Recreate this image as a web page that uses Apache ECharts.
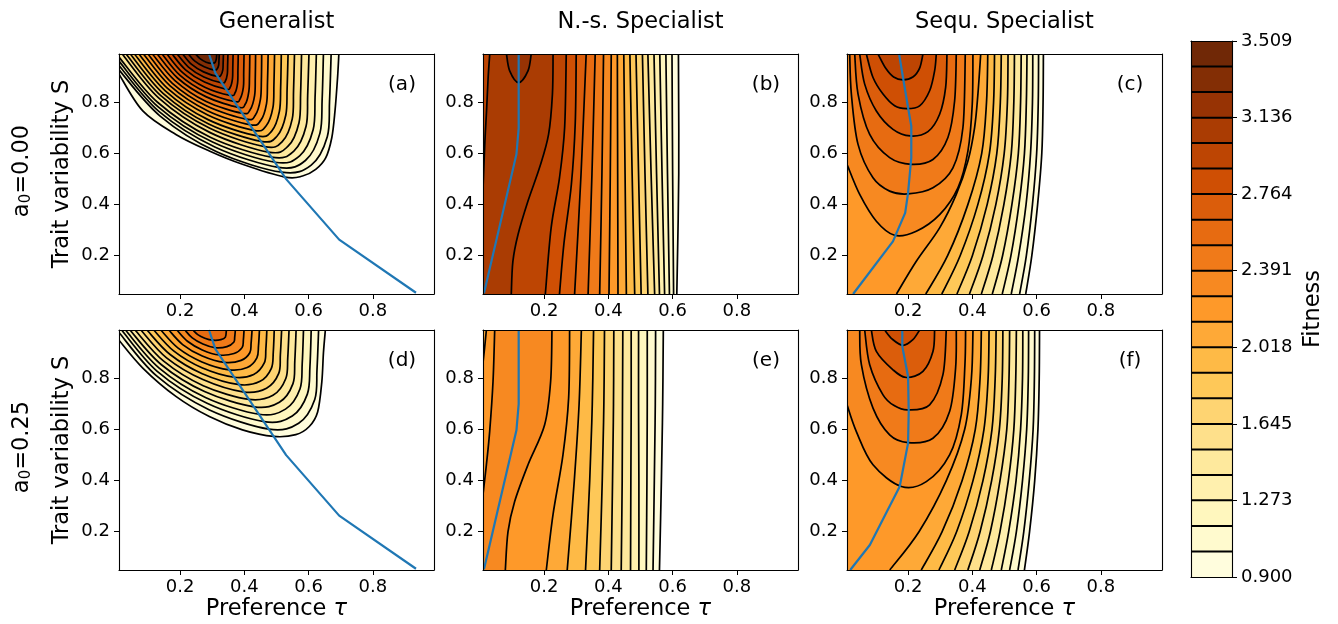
<!DOCTYPE html>
<html><head><meta charset="utf-8">
<script src="https://cdn.jsdelivr.net/npm/echarts@6.0.0/dist/echarts.min.js"></script>
<style>html,body{margin:0;padding:0;background:#fff}#c{width:1338px;height:624px}</style>
</head><body><div id="c"></div>
<script>
// ---------------- data ----------------
const titles = ['Generalist', 'N.-s. Specialist', 'Sequ. Specialist'];
const rowLabels = ['a{s|0}=0.00', 'a{s|0}=0.25'];
const panelTags = ['(a)', '(b)', '(c)', '(d)', '(e)', '(f)'];
const levels = [0.900,1.024,1.148,1.273,1.397,1.521,1.645,1.770,1.894,2.018,2.142,2.267,2.391,2.515,2.639,2.764,2.888,3.012,3.136,3.261,3.385,3.509];
const cbTicks = [0.900,1.273,1.645,2.018,2.391,2.764,3.136,3.509];
const xTicks = [0.2,0.4,0.6,0.8];
const yTicks = [0.2,0.4,0.6,0.8];
const tauRange = [0.01, 0.99];
const sRange = [0.05, 0.99];

// optimum preference (blue lines)
const optimumGen = [[0.29,0.99],[0.31,0.915],[0.53,0.50],[0.695,0.263],[0.934,0.055]];
const optimumNs = [[0.121,0.99],[0.121,0.70],[0.114,0.597],[0.013,0.053]];
const optimumSeq0 = [[0.172,0.99],[0.185,0.892],[0.200,0.780],[0.21,0.708],[0.21,0.584],[0.200,0.446],[0.191,0.368],[0.153,0.256],[0.029,0.05]];
const optimumSeq25 = [[0.182,0.99],[0.182,0.926],[0.2,0.808],[0.202,0.671],[0.2,0.547],[0.174,0.377],[0.081,0.148],[0.02,0.05]];

// contour lines: [level index, points [tau, S]]
const contoursA = [
 [0,[[0.01,0.911],[0.084,0.767],[0.187,0.675],[0.291,0.610],[0.394,0.558],[0.526,0.508],[0.581,0.512],[0.622,0.538],[0.653,0.583],[0.672,0.662],[0.682,0.767],[0.690,0.898],[0.694,0.99]]],
 [1,[[0.01,0.928],[0.137,0.748],[0.314,0.607],[0.516,0.527],[0.608,0.555],[0.658,0.666],[0.665,0.805],[0.670,0.99]]],
 [2,[[0.01,0.945],[0.134,0.765],[0.308,0.626],[0.506,0.546],[0.590,0.573],[0.635,0.679],[0.642,0.812],[0.646,0.99]]],
 [3,[[0.01,0.962],[0.131,0.784],[0.301,0.645],[0.495,0.566],[0.572,0.591],[0.614,0.693],[0.620,0.820],[0.624,0.99]]],
 [4,[[0.01,0.978],[0.129,0.802],[0.294,0.664],[0.484,0.586],[0.554,0.610],[0.592,0.707],[0.597,0.828],[0.601,0.99]]],
 [5,[[0.020,0.99],[0.134,0.817],[0.292,0.683],[0.474,0.606],[0.536,0.629],[0.570,0.721],[0.575,0.836],[0.578,0.99]]],
 [6,[[0.032,0.99],[0.140,0.827],[0.291,0.700],[0.463,0.627],[0.519,0.649],[0.549,0.736],[0.553,0.845],[0.556,0.99]]],
 [7,[[0.045,0.99],[0.147,0.836],[0.289,0.716],[0.452,0.648],[0.502,0.669],[0.529,0.751],[0.533,0.853],[0.536,0.99]]],
 [8,[[0.058,0.99],[0.154,0.846],[0.287,0.733],[0.440,0.669],[0.485,0.688],[0.509,0.765],[0.513,0.862],[0.515,0.99]]],
 [9,[[0.072,0.99],[0.161,0.855],[0.286,0.751],[0.429,0.691],[0.468,0.709],[0.489,0.781],[0.492,0.870],[0.494,0.99]]],
 [10,[[0.086,0.99],[0.169,0.865],[0.285,0.768],[0.417,0.713],[0.451,0.730],[0.469,0.796],[0.472,0.879],[0.474,0.99]]],
 [11,[[0.100,0.99],[0.176,0.875],[0.283,0.786],[0.405,0.735],[0.434,0.750],[0.450,0.812],[0.453,0.888],[0.454,0.99]]],
 [12,[[0.114,0.99],[0.184,0.886],[0.281,0.804],[0.393,0.758],[0.418,0.772],[0.432,0.828],[0.434,0.897],[0.435,0.99]]],
 [13,[[0.129,0.99],[0.192,0.896],[0.280,0.823],[0.381,0.781],[0.403,0.794],[0.414,0.844],[0.416,0.906],[0.417,0.99]]],
 [14,[[0.144,0.99],[0.200,0.906],[0.279,0.841],[0.369,0.804],[0.387,0.815],[0.397,0.860],[0.398,0.916],[0.399,0.99]]],
 [15,[[0.159,0.99],[0.208,0.917],[0.277,0.860],[0.356,0.828],[0.371,0.838],[0.379,0.877],[0.380,0.925],[0.381,0.99]]],
 [16,[[0.175,0.99],[0.217,0.928],[0.276,0.880],[0.343,0.852],[0.356,0.860],[0.363,0.893],[0.364,0.935],[0.365,0.99]]],
 [17,[[0.191,0.99],[0.226,0.939],[0.274,0.900],[0.330,0.877],[0.341,0.884],[0.347,0.911],[0.348,0.945],[0.349,0.99]]],
 [18,[[0.208,0.99],[0.235,0.950],[0.273,0.920],[0.317,0.902],[0.327,0.907],[0.333,0.928],[0.334,0.955],[0.335,0.99]]],
 [19,[[0.226,0.99],[0.246,0.962],[0.275,0.940],[0.307,0.927],[0.315,0.931],[0.320,0.946],[0.321,0.965],[0.322,0.99]]],
 [20,[[0.248,0.99],[0.262,0.972],[0.281,0.958],[0.300,0.953],[0.309,0.957],[0.313,0.972],[0.314,0.99]]]
];
const contoursD = [
 [0,[[0.01,0.95],[0.084,0.841],[0.187,0.730],[0.291,0.651],[0.394,0.599],[0.491,0.573],[0.560,0.580],[0.602,0.612],[0.628,0.669],[0.641,0.787],[0.646,0.90],[0.652,0.99]]],
 [1,[[0.01,0.98],[0.127,0.810],[0.290,0.678],[0.476,0.602],[0.569,0.625],[0.619,0.718],[0.626,0.835],[0.631,0.99]]],
 [2,[[0.018,0.99],[0.129,0.828],[0.284,0.703],[0.461,0.631],[0.549,0.653],[0.596,0.739],[0.604,0.846],[0.608,0.99]]],
 [3,[[0.030,0.99],[0.134,0.842],[0.279,0.726],[0.445,0.660],[0.528,0.680],[0.573,0.759],[0.580,0.858],[0.584,0.99]]],
 [4,[[0.044,0.99],[0.141,0.855],[0.276,0.749],[0.430,0.689],[0.509,0.707],[0.551,0.779],[0.557,0.870],[0.561,0.99]]],
 [5,[[0.060,0.99],[0.149,0.868],[0.272,0.772],[0.414,0.718],[0.489,0.734],[0.529,0.800],[0.535,0.881],[0.539,0.99]]],
 [6,[[0.078,0.99],[0.158,0.881],[0.271,0.796],[0.399,0.747],[0.469,0.762],[0.507,0.820],[0.512,0.893],[0.516,0.99]]],
 [7,[[0.097,0.99],[0.169,0.894],[0.269,0.819],[0.384,0.776],[0.449,0.789],[0.484,0.840],[0.490,0.904],[0.493,0.99]]],
 [8,[[0.118,0.99],[0.181,0.907],[0.268,0.842],[0.368,0.805],[0.429,0.816],[0.462,0.861],[0.467,0.916],[0.470,0.99]]],
 [9,[[0.140,0.99],[0.193,0.920],[0.268,0.865],[0.353,0.834],[0.409,0.843],[0.439,0.881],[0.444,0.928],[0.447,0.99]]],
 [10,[[0.165,0.99],[0.208,0.933],[0.269,0.888],[0.338,0.863],[0.390,0.871],[0.417,0.901],[0.421,0.939],[0.424,0.99]]],
 [11,[[0.190,0.99],[0.223,0.946],[0.269,0.912],[0.322,0.892],[0.368,0.898],[0.393,0.921],[0.397,0.951],[0.399,0.99]]],
 [12,[[0.215,0.99],[0.238,0.959],[0.271,0.935],[0.308,0.921],[0.346,0.925],[0.367,0.942],[0.370,0.962],[0.372,0.99]]],
 [13,[[0.240,0.99],[0.255,0.972],[0.277,0.958],[0.301,0.950],[0.327,0.952],[0.341,0.962],[0.344,0.99]]]
];
const contoursB = [
 [0,[[0.618,0.99],[0.619,0.52],[0.613,0.05]]],
 [1,[[0.598,0.99],[0.600,0.52],[0.603,0.05]]],
 [2,[[0.579,0.99],[0.584,0.52],[0.590,0.05]]],
 [3,[[0.560,0.99],[0.567,0.52],[0.575,0.05]]],
 [4,[[0.542,0.99],[0.550,0.52],[0.559,0.05]]],
 [5,[[0.523,0.99],[0.533,0.52],[0.544,0.05]]],
 [6,[[0.506,0.99],[0.514,0.52],[0.523,0.05]]],
 [7,[[0.486,0.99],[0.494,0.52],[0.502,0.05]]],
 [8,[[0.467,0.99],[0.474,0.52],[0.482,0.05]]],
 [9,[[0.448,0.99],[0.452,0.52],[0.456,0.05]]],
 [10,[[0.428,0.99],[0.429,0.52],[0.430,0.05]]],
 [11,[[0.409,0.99],[0.406,0.52],[0.402,0.05]]],
 [12,[[0.385,0.99],[0.380,0.52],[0.373,0.05]]],
 [13,[[0.359,0.99],[0.349,0.52],[0.337,0.05]]],
 [14,[[0.331,0.99],[0.315,0.52],[0.295,0.05]]],
 [15,[[0.300,0.99],[0.297,0.72],[0.285,0.48],[0.262,0.25],[0.248,0.05]]],
 [16,[[0.269,0.99],[0.264,0.702],[0.248,0.505],[0.222,0.309],[0.204,0.05]]],
 [17,[[0.228,0.99],[0.226,0.833],[0.214,0.675],[0.186,0.545],[0.150,0.414],[0.119,0.283],[0.103,0.178],[0.098,0.05]]],
 [17,[[0.031,0.99],[0.026,0.898],[0.021,0.767],[0.0155,0.636],[0.009,0.43]]],
 [18,[[0.083,0.99],[0.093,0.924],[0.121,0.878],[0.150,0.924],[0.160,0.99]]]
];
const contoursE = [
 [0,[[0.571,0.99],[0.569,0.7],[0.565,0.4],[0.559,0.05]]],
 [1,[[0.547,0.99],[0.546,0.7],[0.543,0.4],[0.539,0.05]]],
 [2,[[0.521,0.99],[0.521,0.7],[0.520,0.4],[0.518,0.05]]],
 [3,[[0.494,0.99],[0.494,0.7],[0.495,0.4],[0.495,0.05]]],
 [4,[[0.471,0.99],[0.471,0.7],[0.470,0.4],[0.469,0.05]]],
 [5,[[0.445,0.99],[0.444,0.7],[0.443,0.4],[0.440,0.05]]],
 [6,[[0.417,0.99],[0.416,0.7],[0.413,0.4],[0.409,0.05]]],
 [7,[[0.388,0.99],[0.386,0.7],[0.381,0.4],[0.373,0.05]]],
 [8,[[0.354,0.99],[0.350,0.7],[0.342,0.4],[0.329,0.05]]],
 [9,[[0.316,0.99],[0.309,0.7],[0.294,0.4],[0.272,0.05]]],
 [10,[[0.2795,0.99],[0.2764,0.723],[0.2588,0.501],[0.2277,0.266],[0.207,0.05]]],
 [11,[[0.2246,0.99],[0.2204,0.789],[0.2018,0.619],[0.150,0.462],[0.1085,0.318],[0.0878,0.200],[0.0795,0.05]]],
 [11,[[0.0464,0.99],[0.0412,0.789],[0.0308,0.593],[0.0205,0.462],[0.009,0.335]]],
 [10,[[0.0205,0.99],[0.015,0.92],[0.009,0.85]]]
];
const contoursC = [
 [0,[[0.566,0.05],[0.585,0.2],[0.603,0.4],[0.616,0.6],[0.620,0.8],[0.621,0.99]]],
 [1,[[0.547,0.05],[0.568,0.2],[0.587,0.4],[0.600,0.6],[0.605,0.8],[0.606,0.99]]],
 [2,[[0.521,0.05],[0.544,0.2],[0.567,0.4],[0.581,0.6],[0.587,0.8],[0.588,0.99]]],
 [3,[[0.493,0.05],[0.520,0.2],[0.545,0.4],[0.562,0.6],[0.568,0.8],[0.570,0.99]]],
 [4,[[0.462,0.05],[0.494,0.2],[0.523,0.4],[0.543,0.6],[0.550,0.8],[0.552,0.99]]],
 [5,[[0.428,0.05],[0.464,0.2],[0.498,0.4],[0.521,0.6],[0.529,0.8],[0.531,0.99]]],
 [6,[[0.391,0.05],[0.433,0.2],[0.473,0.4],[0.499,0.6],[0.509,0.8],[0.511,0.99]]],
 [7,[[0.352,0.05],[0.400,0.2],[0.446,0.4],[0.476,0.6],[0.487,0.8],[0.490,0.99]]],
 [8,[[0.305,0.05],[0.362,0.2],[0.417,0.4],[0.453,0.6],[0.466,0.8],[0.469,0.99]]],
 [9,[[0.255,0.05],[0.323,0.2],[0.386,0.4],[0.429,0.6],[0.444,0.8],[0.448,0.99]]],
 [10,[[0.164,0.05],[0.2256,0.178],[0.2982,0.309],[0.35,0.44],[0.3862,0.571],[0.407,0.702],[0.4173,0.833],[0.426,0.99]]],
 [11,[[0.01,0.558],[0.0495,0.440],[0.1013,0.335],[0.158,0.280],[0.2256,0.296],[0.2982,0.361],[0.3551,0.466],[0.3862,0.610],[0.3997,0.793],[0.4018,0.99]]],
 [12,[[0.0184,0.99],[0.0236,0.833],[0.0443,0.636],[0.0909,0.505],[0.1427,0.453],[0.1997,0.442],[0.2774,0.466],[0.3396,0.544],[0.3707,0.702],[0.378,0.99]]],
 [13,[[0.034,0.99],[0.0443,0.833],[0.0806,0.675],[0.1427,0.584],[0.2101,0.558],[0.2774,0.577],[0.324,0.663],[0.3448,0.806],[0.35,0.99]]],
 [14,[[0.0495,0.99],[0.065,0.872],[0.1013,0.767],[0.1531,0.695],[0.207,0.669],[0.2619,0.686],[0.2982,0.754],[0.3169,0.859],[0.321,0.99]]],
 [15,[[0.0702,0.99],[0.0909,0.898],[0.122,0.833],[0.1583,0.787],[0.1946,0.776],[0.236,0.787],[0.2671,0.846],[0.2826,0.924],[0.2878,0.99]]],
 [16,[[0.1065,0.99],[0.13,0.935],[0.155,0.900],[0.184,0.889],[0.215,0.900],[0.236,0.935],[0.2463,0.99]]]
];
const contoursF = [
 [0,[[0.562,0.05],[0.578,0.2],[0.594,0.4],[0.604,0.6],[0.608,0.8],[0.609,0.99]]],
 [1,[[0.542,0.05],[0.560,0.2],[0.577,0.4],[0.589,0.6],[0.593,0.8],[0.594,0.99]]],
 [2,[[0.516,0.05],[0.537,0.2],[0.556,0.4],[0.569,0.6],[0.574,0.8],[0.575,0.99]]],
 [3,[[0.490,0.05],[0.513,0.2],[0.536,0.4],[0.550,0.6],[0.556,0.8],[0.557,0.99]]],
 [4,[[0.459,0.05],[0.486,0.2],[0.512,0.4],[0.529,0.6],[0.535,0.8],[0.537,0.99]]],
 [5,[[0.423,0.05],[0.456,0.2],[0.486,0.4],[0.507,0.6],[0.514,0.8],[0.516,0.99]]],
 [6,[[0.386,0.05],[0.424,0.2],[0.460,0.4],[0.484,0.6],[0.493,0.8],[0.495,0.99]]],
 [7,[[0.345,0.05],[0.390,0.2],[0.433,0.4],[0.461,0.6],[0.471,0.8],[0.474,0.99]]],
 [8,[[0.296,0.05],[0.351,0.2],[0.402,0.4],[0.436,0.6],[0.449,0.8],[0.452,0.99]]],
 [9,[[0.241,0.05],[0.306,0.2],[0.368,0.4],[0.409,0.6],[0.424,0.8],[0.428,0.99]]],
 [10,[[0.143,0.05],[0.234,0.2],[0.319,0.4],[0.376,0.6],[0.397,0.8],[0.402,0.99]]],
 [11,[[0.01,0.697],[0.0391,0.592],[0.0909,0.462],[0.179,0.377],[0.2567,0.396],[0.3292,0.501],[0.3655,0.658],[0.3769,0.854],[0.379,0.99]]],
 [12,[[0.0495,0.99],[0.0547,0.854],[0.0909,0.684],[0.1427,0.579],[0.1997,0.549],[0.2774,0.566],[0.3292,0.671],[0.3479,0.841],[0.35,0.99]]],
 [13,[[0.065,0.99],[0.0806,0.854],[0.122,0.736],[0.158,0.693],[0.1997,0.677],[0.2671,0.697],[0.3085,0.815],[0.3189,0.99]]],
 [14,[[0.0857,0.99],[0.1013,0.906],[0.1531,0.834],[0.1946,0.804],[0.2463,0.828],[0.2774,0.906],[0.2826,0.99]]],
 [15,[[0.127,0.99],[0.15,0.955],[0.184,0.930],[0.215,0.952],[0.236,0.99]]]
];

// region topology: which contour pieces (c = forward, r = reversed) and outer corners close each level's area
const regionsA = contoursA.map((c, i) => [c[0], ['c' + i, 'UL']]);
const regionsD = contoursD.map((c, i) => [c[0], ['c' + i, 'UL']]);
const regionsB = contoursB.slice(0, 17).map((c, i) => [c[0], ['c' + i, 'DL', 'UL']])
  .concat([[17, ['c17', 'DL', 'r18']], [18, ['c19', 'UL']]]);
const regionsE = contoursE.slice(0, 10).map((c, i) => [c[0], ['c' + i, 'DL', 'UL']])
  .concat([[10, ['c10', 'DL', 'r13']], [11, ['c11', 'DL', 'r12']]]);
const regionsC = contoursC.map((c, i) => i <= 10 ? [c[0], ['c' + i, 'UL', 'DL']] : [c[0], ['c' + i, 'UL']]);
const regionsF = contoursF.map((c, i) => i <= 10 ? [c[0], ['c' + i, 'UL', 'DL']] : [c[0], ['c' + i, 'UL']]);

// ---------------- style / layout ----------------
const FONT = 'DejaVu Sans';
const BIG = 22.5, TICK = 18;
const GRID_W = 315, GRID_H = 240;
const colLeft = [119, 483, 847];
const rowTop = [54, 330];
const CORNERS = { UL: [-1, 2], DL: [-1, -1], UR: [2, 2], DR: [2, -1] };
const YLORBR = ['#ffffe5','#fff7bc','#fee391','#fec44f','#fe9929','#ec7014','#cc4c02','#993404','#662506'];

function hexRgb(h) { return [1, 3, 5].map(i => parseInt(h.slice(i, i + 2), 16)); }
function bandColor(k) {
  const t = (k + 0.5) / (levels.length - 1);
  const pos = t * (YLORBR.length - 1);
  const i = Math.min(Math.floor(pos), YLORBR.length - 2);
  const f = pos - i;
  const a = hexRgb(YLORBR[i]), b = hexRgb(YLORBR[i + 1]);
  return 'rgb(' + [0, 1, 2].map(j => Math.round(a[j] + (b[j] - a[j]) * f)).join(',') + ')';
}
function fmt(p) { return p[0].toFixed(2) + ' ' + p[1].toFixed(2); }
function spline(pts) {
  let d = '';
  for (let i = 0; i < pts.length - 1; i++) {
    const p0 = pts[i - 1] || pts[i], p1 = pts[i], p2 = pts[i + 1], p3 = pts[i + 2] || pts[i + 1];
    const c1 = [p1[0] + (p2[0] - p0[0]) / 6, p1[1] + (p2[1] - p0[1]) / 6];
    const c2 = [p2[0] - (p3[0] - p1[0]) / 6, p2[1] - (p3[1] - p1[1]) / 6];
    d += ' C' + fmt(c1) + ' ' + fmt(c2) + ' ' + fmt(p2);
  }
  return d;
}
function regionPath(spec, contours, api) {
  let d = '';
  spec.forEach((item, n) => {
    const cmd = n === 0 ? 'M' : ' L';
    if (CORNERS[item]) { d += cmd + fmt(api.coord(CORNERS[item])); return; }
    let pts = contours[+item.slice(1)][1].map(q => api.coord(q));
    if (item[0] === 'r') pts = pts.slice().reverse();
    d += cmd + fmt(pts[0]) + spline(pts);
  });
  return d + ' Z';
}

const panels = [
  { contours: contoursA, regions: regionsA, optimum: optimumGen },
  { contours: contoursB, regions: regionsB, optimum: optimumNs },
  { contours: contoursC, regions: regionsC, optimum: optimumSeq0 },
  { contours: contoursD, regions: regionsD, optimum: optimumGen },
  { contours: contoursE, regions: regionsE, optimum: optimumNs },
  { contours: contoursF, regions: regionsF, optimum: optimumSeq25 }
];

const lineStyleBlack = { color: '#000', width: 1.1 };
const labelStyle = { fontSize: TICK, color: '#000', fontFamily: FONT };
const grids = [], xAxes = [], yAxes = [], series = [], graphics = [];

panels.forEach((pn, p) => {
  const row = Math.floor(p / 3), col = p % 3;
  grids.push({ left: colLeft[col], top: rowTop[row], width: GRID_W, height: GRID_H, outerBoundsMode: 'none', containLabel: false });
  xAxes.push({
    gridIndex: p, type: 'value', min: tauRange[0], max: tauRange[1], position: 'bottom', z: 10,
    axisLine: { onZero: false, lineStyle: lineStyleBlack },
    axisTick: { customValues: xTicks, length: 5, lineStyle: { color: '#000', width: 1 } },
    axisLabel: Object.assign({ customValues: xTicks, margin: 8, formatter: v => v.toFixed(1) }, labelStyle),
    splitLine: { show: false },
    name: row === 1 ? 'Preference {i|\u03c4}' : '', nameLocation: 'middle', nameGap: 28, nameMoveOverlap: false,
    nameTextStyle: { fontSize: BIG, color: '#000', fontFamily: FONT, rich: { i: { fontSize: BIG, fontStyle: 'italic', fontFamily: FONT, color: '#000' } } }
  }, {
    gridIndex: p, type: 'value', min: tauRange[0], max: tauRange[1], position: 'top', z: 10,
    axisLine: { onZero: false, lineStyle: lineStyleBlack }, axisTick: { show: false }, axisLabel: { show: false }, splitLine: { show: false }
  });
  yAxes.push({
    gridIndex: p, type: 'value', min: sRange[0], max: sRange[1], position: 'left', z: 10,
    axisLine: { onZero: false, lineStyle: lineStyleBlack },
    axisTick: { customValues: yTicks, length: 5, lineStyle: { color: '#000', width: 1 } },
    axisLabel: Object.assign({ customValues: yTicks, margin: 9, formatter: v => v.toFixed(1) }, labelStyle),
    splitLine: { show: false },
    name: col === 0 ? 'Trait variability S' : '', nameLocation: 'middle', nameGap: 45, nameMoveOverlap: false,
    nameTextStyle: { fontSize: BIG, color: '#000', fontFamily: FONT }
  }, {
    gridIndex: p, type: 'value', min: sRange[0], max: sRange[1], position: 'right', z: 10,
    axisLine: { onZero: false, lineStyle: lineStyleBlack }, axisTick: { show: false }, axisLabel: { show: false }, splitLine: { show: false }
  });
  const ai = 2 * p;
  series.push({
    type: 'custom', xAxisIndex: ai, yAxisIndex: ai, clip: true, silent: true, z: 2,
    data: pn.regions.map(() => [0.5, 0.5]),
    renderItem: (params, api) => {
      const r = pn.regions[params.dataIndex];
      return { type: 'path', z2: r[0], shape: { pathData: regionPath(r[1], pn.contours, api) },
        style: { fill: bandColor(r[0]), stroke: 'none' } };
    }
  });
  series.push({
    type: 'custom', xAxisIndex: ai, yAxisIndex: ai, clip: true, silent: true, z: 3,
    data: pn.contours.map(() => [0.5, 0.5]),
    renderItem: (params, api) => {
      const pts = pn.contours[params.dataIndex][1].map(q => api.coord(q));
      return { type: 'path', shape: { pathData: 'M' + fmt(pts[0]) + spline(pts) },
        style: { fill: 'none', stroke: '#000', lineWidth: 1.7, lineJoin: 'round' } };
    }
  });
  series.push({
    type: 'line', xAxisIndex: ai, yAxisIndex: ai, data: pn.optimum, symbol: 'none', showSymbol: false,
    lineStyle: { color: '#1f77b4', width: 2.2 }, z: 4, clip: true, silent: true, smooth: false
  });
  graphics.push({ type: 'text', x: colLeft[col] + GRID_W - 32, y: rowTop[row] + 31,
    style: { text: panelTags[p], fontSize: 20, fontFamily: FONT, fill: '#000', align: 'center', verticalAlign: 'middle', textAlign: 'center', textVerticalAlign: 'middle' } });
});

// colorbar
grids.push({ left: 1191, top: 41, width: 41, height: 536, outerBoundsMode: 'none', containLabel: false });
xAxes.push({ gridIndex: 6, type: 'value', min: 0, max: 1, position: 'bottom', z: 10, axisLine: { onZero: false, lineStyle: lineStyleBlack }, axisTick: { show: false }, axisLabel: { show: false }, splitLine: { show: false } },
           { gridIndex: 6, type: 'value', min: 0, max: 1, position: 'top', z: 10, axisLine: { onZero: false, lineStyle: lineStyleBlack }, axisTick: { show: false }, axisLabel: { show: false }, splitLine: { show: false } });
yAxes.push({
  gridIndex: 6, type: 'value', min: levels[0], max: levels[levels.length - 1], position: 'right', z: 10,
  axisLine: { onZero: false, lineStyle: lineStyleBlack },
  axisTick: { customValues: cbTicks, length: 5, lineStyle: { color: '#000', width: 1 } },
  axisLabel: Object.assign({ customValues: cbTicks, margin: 9, formatter: v => v.toFixed(3) }, labelStyle),
  splitLine: { show: false },
  name: 'Fitness', nameLocation: 'middle', nameGap: 70, nameMoveOverlap: false,
  nameTextStyle: { fontSize: BIG, color: '#000', fontFamily: FONT }
}, { gridIndex: 6, type: 'value', min: levels[0], max: levels[levels.length - 1], position: 'left', z: 10, axisLine: { onZero: false, lineStyle: lineStyleBlack }, axisTick: { show: false }, axisLabel: { show: false }, splitLine: { show: false } });
series.push({
  type: 'custom', xAxisIndex: 12, yAxisIndex: 12, silent: true, z: 2,
  data: levels.slice(0, -1).map(v => [0.5, v]),
  renderItem: (params, api) => {
    const k = params.dataIndex;
    const a = api.coord([0, levels[k]]), b = api.coord([1, levels[k + 1]]);
    const children = [{ type: 'rect', shape: { x: a[0], y: b[1], width: b[0] - a[0], height: a[1] - b[1] }, style: { fill: bandColor(k) } }];
    if (k < levels.length - 2) children.push({ type: 'line', z2: 5, shape: { x1: a[0], y1: b[1], x2: b[0], y2: b[1] }, style: { stroke: '#000', lineWidth: 2 } });
    return { type: 'group', children: children };
  }
});

// titles and row labels
titles.forEach((t, i) => graphics.push({ type: 'text', x: colLeft[i] + GRID_W / 2, y: 22,
  style: { text: t, fontSize: BIG, fontFamily: FONT, fill: '#000', align: 'center', verticalAlign: 'middle', textAlign: 'center', textVerticalAlign: 'middle' } }));
rowLabels.forEach((t, r) => graphics.push({ type: 'text', x: 22, y: rowTop[r] + GRID_H / 2 - 3, rotation: Math.PI / 2,
  style: { text: t, fontSize: BIG, fontFamily: FONT, fill: '#000', align: 'center', verticalAlign: 'middle', textAlign: 'center', textVerticalAlign: 'middle',
    rich: { s: { fontSize: 15, fontFamily: FONT, fill: '#000', verticalAlign: 'bottom', padding: [9, 0, 0, 0] } } } }));

const chart = echarts.init(document.getElementById('c'), null, { renderer: 'canvas' });
chart.setOption({
  animation: false,
  backgroundColor: '#fff',
  textStyle: { fontFamily: FONT },
  grid: grids, xAxis: xAxes, yAxis: yAxes, series: series, graphic: graphics
});
</script></body></html>
